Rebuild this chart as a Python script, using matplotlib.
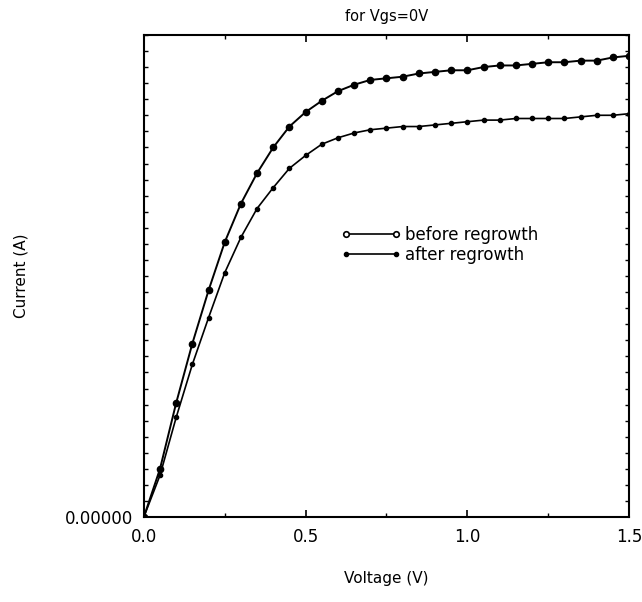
import matplotlib
matplotlib.use("Agg")
import matplotlib.pyplot as plt
from matplotlib.lines import Line2D
from matplotlib.ticker import MultipleLocator, FixedLocator, FormatStrFormatter

# voltage steps of 0.05 V
voltage = [i * 0.05 for i in range(31)]

before = [0.0, 0.0030, 0.0071, 0.0108, 0.0141, 0.0171, 0.0195, 0.0214, 0.0230, 0.0243,
          0.0252, 0.0259, 0.0265, 0.0269, 0.0272, 0.0273, 0.0274, 0.0276, 0.0277, 0.0278,
          0.0278, 0.0280, 0.0281, 0.0281, 0.0282, 0.0283, 0.0283, 0.0284, 0.0284, 0.0286,
          0.0287]
after = [0.0, 0.0026, 0.0062, 0.0095, 0.0124, 0.0152, 0.0174, 0.0192, 0.0205, 0.0217,
         0.0225, 0.0232, 0.0236, 0.0239, 0.0241, 0.0242, 0.0243, 0.0243, 0.0244, 0.0245,
         0.0246, 0.0247, 0.0247, 0.0248, 0.0248, 0.0248, 0.0248, 0.0249, 0.0250, 0.0250,
         0.0251]

fig = plt.figure(figsize=(6.42, 6.02), dpi=100)
ax = fig.add_axes([0.224, 0.141, 0.756, 0.801])

ax.plot(voltage, before, color="black", lw=1.4, marker="o", ms=4.5)
ax.plot(voltage, after, color="black", lw=1.2, marker="o", ms=3)

ax.set_xlim(0, 1.5)
ax.set_ylim(0, 0.030)
ax.xaxis.set_major_locator(MultipleLocator(0.5))
ax.xaxis.set_minor_locator(MultipleLocator(0.25))
ax.xaxis.set_major_formatter(FormatStrFormatter("%.1f"))
ax.yaxis.set_major_locator(FixedLocator([0.0]))
ax.yaxis.set_minor_locator(MultipleLocator(0.001))
ax.yaxis.set_major_formatter(FormatStrFormatter("%.5f"))
ax.tick_params(which="both", direction="in", top=True, right=True, labelsize=12)
ax.tick_params(which="major", length=5, width=1.2, pad=8)
ax.tick_params(which="minor", length=3, width=1)
for s in ax.spines.values():
    s.set_linewidth(1.5)

ax.set_title("for Vgs=0V", fontsize=10.5, pad=10)
ax.set_xlabel("Voltage (V)", fontsize=11, labelpad=18)
ax.set_ylabel("Current (A)", fontsize=11, labelpad=26)

handles = [
    Line2D([], [], color="black", lw=1.2, marker="o", ms=4, mfc="white", mew=1.2),
    Line2D([], [], color="black", lw=1.2, marker="o", ms=3),
]
ax.legend(handles, ["before regrowth", "after regrowth"], loc="center left",
          bbox_to_anchor=(0.39, 0.565), frameon=False, numpoints=2, fontsize=12,
          handlelength=3.6, handletextpad=0.2, labelspacing=0.1, borderpad=0)

fig.savefig("out.png", dpi=100)
